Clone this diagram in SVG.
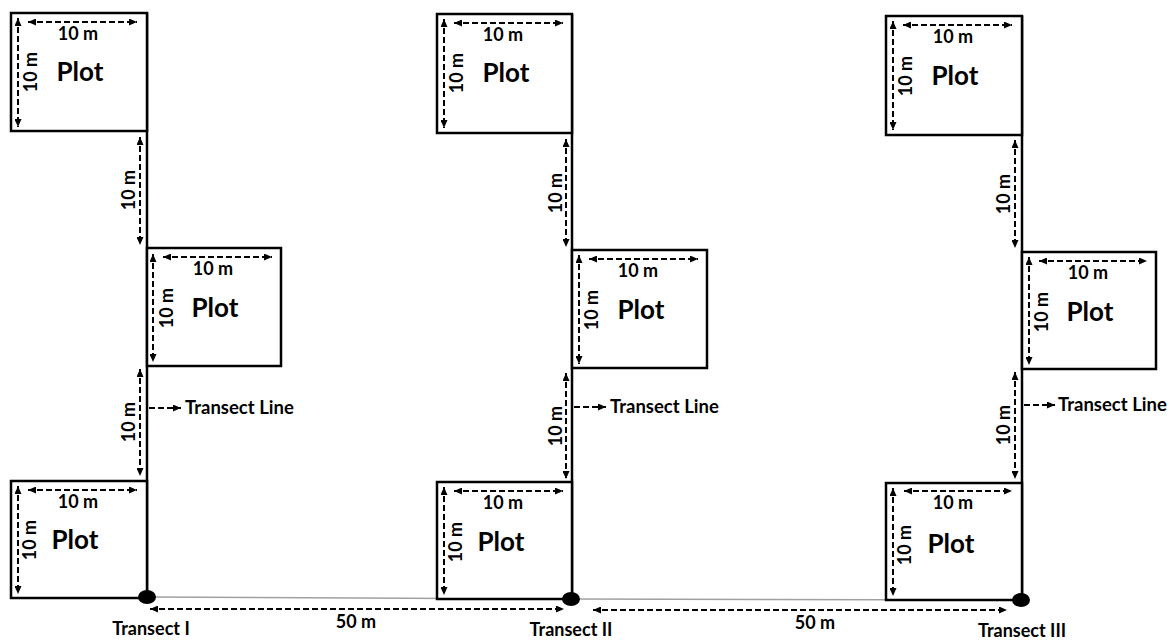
<svg xmlns="http://www.w3.org/2000/svg" width="1167" height="640" viewBox="0 0 1167 640">
<style>
.plot{fill:#fff;stroke:#000;stroke-width:2.5}
.tl{stroke:#000;stroke-width:2.5;fill:none}
.dim{stroke:#000;stroke-width:2;stroke-dasharray:6 3;fill:none;marker-start:url(#ah);marker-end:url(#ah)}
.one{stroke:#000;stroke-width:2;stroke-dasharray:6 3;fill:none;marker-end:url(#ah)}
.base{stroke:#a0a0a0;stroke-width:1.5;fill:none}
text{font-family:Lato,"Open Sans","Liberation Sans",sans-serif;font-weight:bold;fill:#000}
.t10{font-size:18px;text-anchor:middle}
.pl{font-size:26px;text-anchor:middle}
.lab{font-size:18.5px}
.tr{font-size:18px;text-anchor:middle}
</style>
<defs>
<marker id="ah" viewBox="0 0 8 7" refX="8" refY="3.5" markerWidth="8" markerHeight="7" markerUnits="userSpaceOnUse" orient="auto-start-reverse">
<path d="M0,0 L8,3.5 L0,7 z" fill="#000"/>
</marker>
</defs>
<rect width="1167" height="640" fill="#fff"/>

<g id="connectors">
<polyline class="base" points="147,597 572,599 1022,600"/>
<line class="tl" x1="147" y1="13" x2="147" y2="597"/>
<line class="tl" x1="572" y1="14" x2="572" y2="599"/>
<line class="tl" x1="1022" y1="16" x2="1022" y2="600"/>
<line class="dim" x1="140" y1="137" x2="140" y2="245"/>
<line class="dim" x1="140" y1="369" x2="140" y2="476"/>
<line class="one" x1="149" y1="408" x2="181" y2="408"/>
<line class="dim" x1="566" y1="139" x2="566" y2="247"/>
<line class="dim" x1="566" y1="373" x2="566" y2="479"/>
<line class="one" x1="574" y1="407" x2="606" y2="407"/>
<line class="dim" x1="1015" y1="140" x2="1015" y2="248"/>
<line class="dim" x1="1015" y1="372" x2="1015" y2="479"/>
<line class="one" x1="1024" y1="405" x2="1055" y2="405"/>
<line class="dim" x1="150" y1="609" x2="564" y2="609"/>
<line class="dim" x1="593" y1="610" x2="1007" y2="610"/>
</g>

<g id="gap-labels">
<text class="t10" transform="translate(135,190) rotate(-90)">10 m</text>
<text class="t10" transform="translate(135,422) rotate(-90)">10 m</text>
<text class="lab" x="185" y="414">Transect Line</text>
<text class="t10" transform="translate(562,193) rotate(-90)">10 m</text>
<text class="t10" transform="translate(562,426) rotate(-90)">10 m</text>
<text class="lab" x="610" y="413">Transect Line</text>
<text class="t10" transform="translate(1010,194) rotate(-90)">10 m</text>
<text class="t10" transform="translate(1010,425) rotate(-90)">10 m</text>
<text class="lab" x="1058" y="411">Transect Line</text>
<text class="t10" x="356" y="628">50 m</text>
<text class="t10" x="815" y="629">50 m</text>
</g>

<g id="plot-1a">
<rect class="plot" x="11" y="13" width="136" height="118"/>
<line class="dim" x1="28" y1="22" x2="137" y2="22"/>
<text class="t10" x="78" y="40">10 m</text>
<line class="dim" x1="18" y1="18" x2="18" y2="127"/>
<text class="t10" transform="translate(37,72) rotate(-90)">10 m</text>
<text class="pl" x="80" y="81">Plot</text>
</g>
<g id="plot-1b">
<rect class="plot" x="147" y="248" width="134" height="118"/>
<line class="dim" x1="163" y1="257" x2="272" y2="257"/>
<text class="t10" x="213" y="275">10 m</text>
<line class="dim" x1="153" y1="254" x2="153" y2="362"/>
<text class="t10" transform="translate(173,308) rotate(-90)">10 m</text>
<text class="pl" x="215" y="317">Plot</text>
</g>
<g id="plot-1c">
<rect class="plot" x="11" y="481" width="136" height="117"/>
<line class="dim" x1="28" y1="490" x2="137" y2="490"/>
<text class="t10" x="78" y="508">10 m</text>
<line class="dim" x1="18" y1="486" x2="18" y2="594"/>
<text class="t10" transform="translate(36,540) rotate(-90)">10 m</text>
<text class="pl" x="75" y="549">Plot</text>
</g>

<g id="plot-2a">
<rect class="plot" x="437" y="14" width="135" height="119"/>
<line class="dim" x1="454" y1="23" x2="563" y2="23"/>
<text class="t10" x="503" y="41">10 m</text>
<line class="dim" x1="444" y1="19" x2="444" y2="128"/>
<text class="t10" transform="translate(463,73) rotate(-90)">10 m</text>
<text class="pl" x="506" y="82">Plot</text>
</g>
<g id="plot-2b">
<rect class="plot" x="572" y="250" width="135" height="118"/>
<line class="dim" x1="589" y1="259" x2="698" y2="259"/>
<text class="t10" x="638" y="277">10 m</text>
<line class="dim" x1="579" y1="255" x2="579" y2="364"/>
<text class="t10" transform="translate(598,310) rotate(-90)">10 m</text>
<text class="pl" x="641" y="319">Plot</text>
</g>
<g id="plot-2c">
<rect class="plot" x="437" y="482" width="135" height="117"/>
<line class="dim" x1="454" y1="491" x2="563" y2="491"/>
<text class="t10" x="503" y="509">10 m</text>
<line class="dim" x1="444" y1="487" x2="444" y2="595"/>
<text class="t10" transform="translate(462,542) rotate(-90)">10 m</text>
<text class="pl" x="501" y="551">Plot</text>
</g>

<g id="plot-3a">
<rect class="plot" x="886" y="16" width="136" height="119"/>
<line class="dim" x1="903" y1="25" x2="1012" y2="25"/>
<text class="t10" x="953" y="43">10 m</text>
<line class="dim" x1="893" y1="21" x2="893" y2="130"/>
<text class="t10" transform="translate(912,76) rotate(-90)">10 m</text>
<text class="pl" x="955" y="85">Plot</text>
</g>
<g id="plot-3b">
<rect class="plot" x="1022" y="252" width="134" height="117"/>
<line class="dim" x1="1039" y1="261" x2="1147" y2="261"/>
<text class="t10" x="1088" y="279">10 m</text>
<line class="dim" x1="1029" y1="257" x2="1029" y2="365"/>
<text class="t10" transform="translate(1048,312) rotate(-90)">10 m</text>
<text class="pl" x="1090" y="321">Plot</text>
</g>
<g id="plot-3c">
<rect class="plot" x="886" y="483" width="136" height="117"/>
<line class="dim" x1="904" y1="491" x2="1012" y2="491"/>
<text class="t10" x="953" y="509">10 m</text>
<line class="dim" x1="893" y1="488" x2="893" y2="596"/>
<text class="t10" transform="translate(911,545) rotate(-90)">10 m</text>
<text class="pl" x="951" y="553">Plot</text>
</g>

<g id="transect-1">
<ellipse cx="147" cy="597" rx="9" ry="7" fill="#000"/>
<text class="tr" x="151" y="635">Transect I</text>
</g>
<g id="transect-2">
<ellipse cx="571" cy="599" rx="9" ry="7" fill="#000"/>
<text class="tr" x="571" y="636">Transect II</text>
</g>
<g id="transect-3">
<ellipse cx="1021" cy="600" rx="9" ry="7" fill="#000"/>
<text class="tr" x="1022" y="637">Transect III</text>
</g>
</svg>
